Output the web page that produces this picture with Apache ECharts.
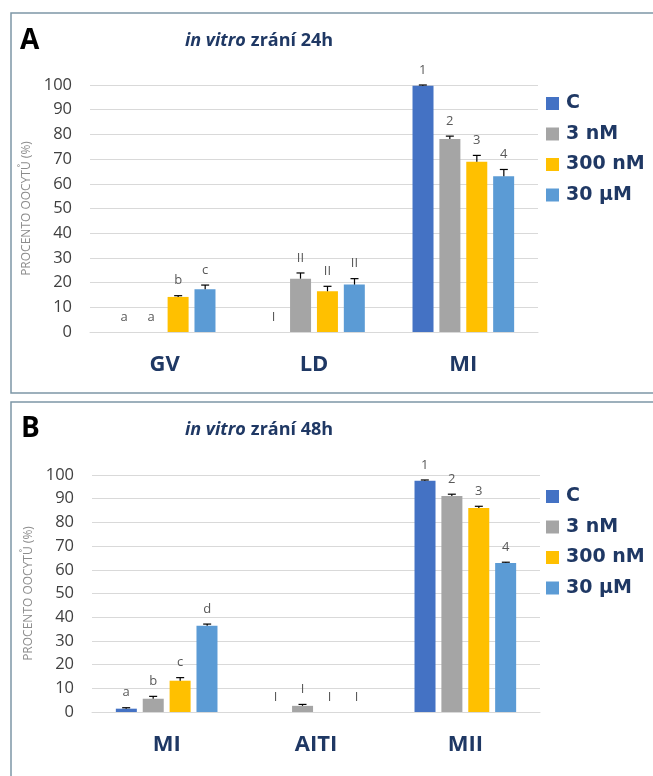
<!DOCTYPE html>
<html lang="cs">

<head>
  <meta charset="UTF-8">
  <title>in vitro zrání</title>
  <script src="https://cdn.jsdelivr.net/npm/echarts@6/dist/echarts.min.js"></script>
  <style>
    html,
    body {
      margin: 0;
      padding: 0;
      width: 100%;
      height: 100%;
      background: #fff;
    }

    #chart {
      width: 653px;
      height: 776px;
    }
  </style>
</head>

<body>
  <div id="chart"></div>

  <script>
    // skupiny (legenda) a barvy
    const seriesNames = ['C', '3 nM', '300 nM', '30 µM'];
    const colors = ['#4472c4', '#a5a5a5', '#ffc000', '#5b9bd5'];

    // panel A - 24h
    const categoriesA = ['GV', 'LD', 'MI'];
    const valuesA_C = [0, 0, 99.7];
    const valuesA_3nM = [0, 21.6, 78.1];
    const valuesA_300nM = [14.2, 16.5, 68.9];
    const valuesA_30uM = [17.3, 19.2, 63.1];
    const errA_C = [0, 0, 0.3];
    const errA_3nM = [0, 2.3, 1.2];
    const errA_300nM = [0.5, 2.0, 2.6];
    const errA_30uM = [1.7, 2.4, 2.7];
    const lettersA_C = ['a', 'I', '1'];
    const lettersA_3nM = ['a', 'II', '2'];
    const lettersA_300nM = ['b', 'II', '3'];
    const lettersA_30uM = ['c', 'II', '4'];

    // panel B - 48h
    const categoriesB = ['MI', 'AITI', 'MII'];
    const valuesB_C = [1.4, 0, 97.6];
    const valuesB_3nM = [5.6, 2.6, 91.1];
    const valuesB_300nM = [13.2, 0, 86.1];
    const valuesB_30uM = [36.4, 0, 62.9];
    const errB_C = [0.4, 0, 0.3];
    const errB_3nM = [1.0, 0.6, 0.8];
    const errB_300nM = [1.3, 0, 0.7];
    const errB_30uM = [0.7, 0, 0.3];
    const lettersB_C = ['a', 'I', '1'];
    const lettersB_3nM = ['b', 'I', '2'];
    const lettersB_300nM = ['c', 'I', '3'];
    const lettersB_30uM = ['d', 'I', '4'];

    const yTicks = { min: 0, max: 100, interval: 10 };

    const navy = '#1f3864';
    const font = 'Open Sans';
    const barWidth = 21;
    const barStep = 27; // sirka sloupce + mezera

    const panelA = {
      values: [valuesA_C, valuesA_3nM, valuesA_300nM, valuesA_30uM],
      errors: [errA_C, errA_3nM, errA_300nM, errA_30uM],
      letters: [lettersA_C, lettersA_3nM, lettersA_300nM, lettersA_30uM]
    };
    const panelB = {
      values: [valuesB_C, valuesB_3nM, valuesB_300nM, valuesB_30uM],
      errors: [errB_C, errB_3nM, errB_300nM, errB_30uM],
      letters: [lettersB_C, lettersB_3nM, lettersB_300nM, lettersB_30uM]
    };

    // chybove usecky + pismena nad sloupci
    function errorSeries(panel, axisIndex) {
      const data = [];
      panel.values.forEach((vals, s) => {
        vals.forEach((v, c) => {
          data.push([c, v, panel.errors[s][c], s, panel.letters[s][c]]);
        });
      });
      return {
        type: 'custom',
        xAxisIndex: axisIndex,
        yAxisIndex: axisIndex,
        silent: true,
        z: 5,
        data: data,
        renderItem: function (params, api) {
          const item = data[params.dataIndex];
          const off = (item[3] - 1.5) * barStep;
          const base = api.coord([item[0], item[1]]);
          const top = api.coord([item[0], item[1] + item[2]]);
          const x = base[0] + off;
          const children = [];
          if (item[2] > 0) {
            children.push({
              type: 'line',
              shape: { x1: x, y1: base[1], x2: x, y2: top[1] },
              style: { stroke: '#000', lineWidth: 1.2 }
            }, {
              type: 'line',
              shape: { x1: x - 4, y1: top[1], x2: x + 4, y2: top[1] },
              style: { stroke: '#000', lineWidth: 1.2 }
            });
          }
          children.push({
            type: 'text',
            style: {
              text: item[4],
              x: x,
              y: top[1] - 15,
              align: 'center',
              verticalAlign: 'middle',
              fill: '#595959',
              font: '13px "Open Sans"'
            }
          });
          return { type: 'group', children: children };
        }
      };
    }

    function barSeries(panel, axisIndex) {
      return panel.values.map((vals, s) => ({
        name: seriesNames[s],
        type: 'bar',
        xAxisIndex: axisIndex,
        yAxisIndex: axisIndex,
        data: vals,
        barWidth: barWidth,
        barGap: '28%',
        itemStyle: { color: colors[s] }
      }));
    }

    function titleText(hours) {
      return '{i|in vitro} {b|zrání ' + hours + '}';
    }
    const titleRich = {
      i: { fontStyle: 'italic', fontWeight: 'bold', fontSize: 18, color: navy, fontFamily: font },
      b: { fontWeight: 'bold', fontSize: 18, color: navy, fontFamily: font }
    };

    function xAxis(cats, gridIndex) {
      return {
        type: 'category',
        gridIndex: gridIndex,
        data: cats,
        axisLine: { lineStyle: { color: '#d9d9d9' } },
        axisTick: { show: false },
        axisLabel: { color: navy, fontSize: 22, fontWeight: 'bold', fontFamily: font, margin: 22 }
      };
    }

    function yAxis(gridIndex) {
      return {
        type: 'value',
        gridIndex: gridIndex,
        min: yTicks.min,
        max: yTicks.max,
        interval: yTicks.interval,
        name: 'PROCENTO OOCYTŮ (%)',
        nameLocation: 'middle',
        nameRotate: 90,
        nameGap: 52,
        nameTextStyle: { color: '#8c8c8c', fontSize: 12, fontFamily: font },
        axisLine: { show: false },
        axisTick: { show: false },
        splitLine: { lineStyle: { color: '#d9d9d9' } },
        axisLabel: { color: '#404040', fontSize: 16.5, fontFamily: font, margin: 18 }
      };
    }

    function legend(top) {
      return {
        orient: 'vertical',
        left: 546,
        top: top,
        padding: 0,
        itemWidth: 13,
        itemHeight: 13,
        itemGap: 11.5,
        icon: 'rect',
        selectedMode: false,
        data: seriesNames,
        textStyle: { color: navy, fontSize: 19, fontWeight: 'bold', fontFamily: 'DejaVu Sans', lineHeight: 18, padding: [0, 0, 0, 2] }
      };
    }

    const chart = echarts.init(document.getElementById('chart'), null, { renderer: 'canvas' });

    const option = {
      backgroundColor: '#fff',
      animation: false,
      title: [{
        text: titleText('24h'),
        left: 254,
        top: 27,
        textAlign: 'center',
        textStyle: { rich: titleRich }
      }, {
        text: titleText('48h'),
        left: 254,
        top: 416,
        textAlign: 'center',
        textStyle: { rich: titleRich }
      }],
      legend: [legend(94), legend(487)],
      grid: [{
        left: 90,
        right: 115,
        top: 85,
        bottom: 444
      }, {
        left: 92,
        right: 113,
        top: 475,
        bottom: 64
      }],
      xAxis: [xAxis(categoriesA, 0), xAxis(categoriesB, 1)],
      yAxis: [yAxis(0), yAxis(1)],
      graphic: [{
        type: 'rect',
        shape: { x: 11, y: 13, width: 700, height: 380 },
        style: { fill: 'none', stroke: '#7d97a6', lineWidth: 1.5 },
        silent: true
      }, {
        type: 'rect',
        shape: { x: 11, y: 402, width: 700, height: 420 },
        style: { fill: 'none', stroke: '#7d97a6', lineWidth: 1.5 },
        silent: true
      }, {
        type: 'text',
        left: 20,
        top: 27,
        style: { text: 'A', fill: '#000', font: 'bold 28px "Open Sans"' }
      }, {
        type: 'text',
        left: 21,
        top: 415,
        style: { text: 'B', fill: '#000', font: 'bold 28px "Open Sans"' }
      }],
      series: [
        ...barSeries(panelA, 0),
        errorSeries(panelA, 0),
        ...barSeries(panelB, 1),
        errorSeries(panelB, 1)
      ]
    };

    chart.setOption(option);
  </script>
</body>

</html>
